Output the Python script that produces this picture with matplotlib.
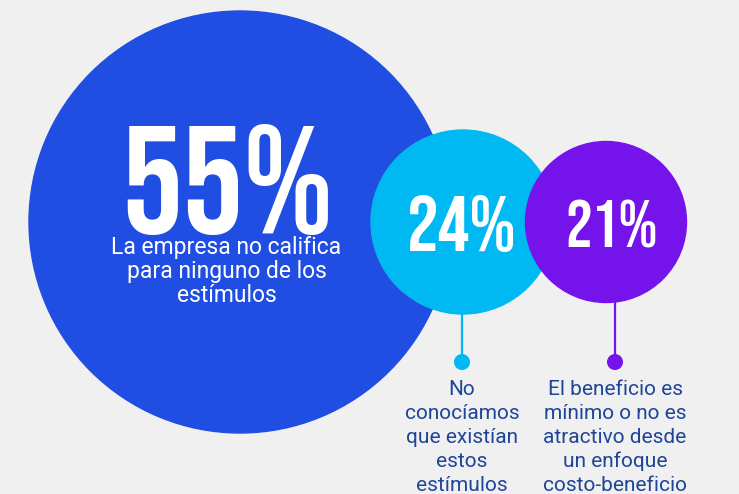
import matplotlib
matplotlib.use("Agg")
import matplotlib.pyplot as plt
from matplotlib.patches import Circle

# data
shares = [55, 24, 21]
inner_lines = [["La empresa no califica", "para ninguno de los", "estímulos"], [], []]
outer_lines = [[],
               ["No", "conocíamos", "que existían", "estos", "estímulos"],
               ["El beneficio es", "mínimo o no es", "atractivo desde", "un enfoque", "costo-beneficio"]]

# layout (pixels, y pointing down)
centers = [(240, 222), (463, 222), (606, 222)]
radii = [211, 92, 80.5]
colors = ["#214ee2", "#00b9f2", "#7414eb"]
num_x = [227.5, 461.5, 611.5]
num_base = [233, 251, 247]
num_sizes = [110, 57, 48]
stem_x = [None, 462, 615]
dot_y = 362
line_step = 24
bg = "#f0f0f0"
label_color = "#1f4599"
num_font = ["Bebas Neue", "Oswald", "DejaVu Sans"]
txt_font = ["Roboto", "Liberation Sans", "DejaVu Sans"]

fig = plt.figure(figsize=(7.39, 4.94), dpi=100, facecolor=bg)
ax = fig.add_axes([0, 0, 1, 1])
ax.set_xlim(0, 739)
ax.set_ylim(494, 0)
ax.set_aspect("equal")
ax.axis("off")

for i, pct in enumerate(shares):
    cx, cy = centers[i]
    z = 2 + i * 2
    ax.add_patch(Circle((cx, cy), radii[i], color=colors[i], zorder=z))
    ax.text(num_x[i], num_base[i], f"{pct}%", color="white", ha="center", va="baseline",
            fontsize=num_sizes[i], family=num_font, zorder=z + 1)
    for k, line in enumerate(inner_lines[i]):
        ax.text(226.5, 254 + k * line_step, line, color="white", ha="center", va="baseline",
                fontsize=16.5, family=txt_font, zorder=z + 1)
    if stem_x[i] is not None:
        sx = stem_x[i]
        ax.plot([sx, sx], [cy + radii[i] - 2, dot_y], color=colors[i], lw=1.6, zorder=2)
        ax.add_patch(Circle((sx, dot_y), 7.3, color=colors[i], zorder=2))
        for k, line in enumerate(outer_lines[i]):
            ax.text(sx, 395 + k * line_step, line, color=label_color, ha="center", va="baseline",
                    fontsize=15, family=txt_font, zorder=3)

fig.savefig("out.png", dpi=100, facecolor=bg)
